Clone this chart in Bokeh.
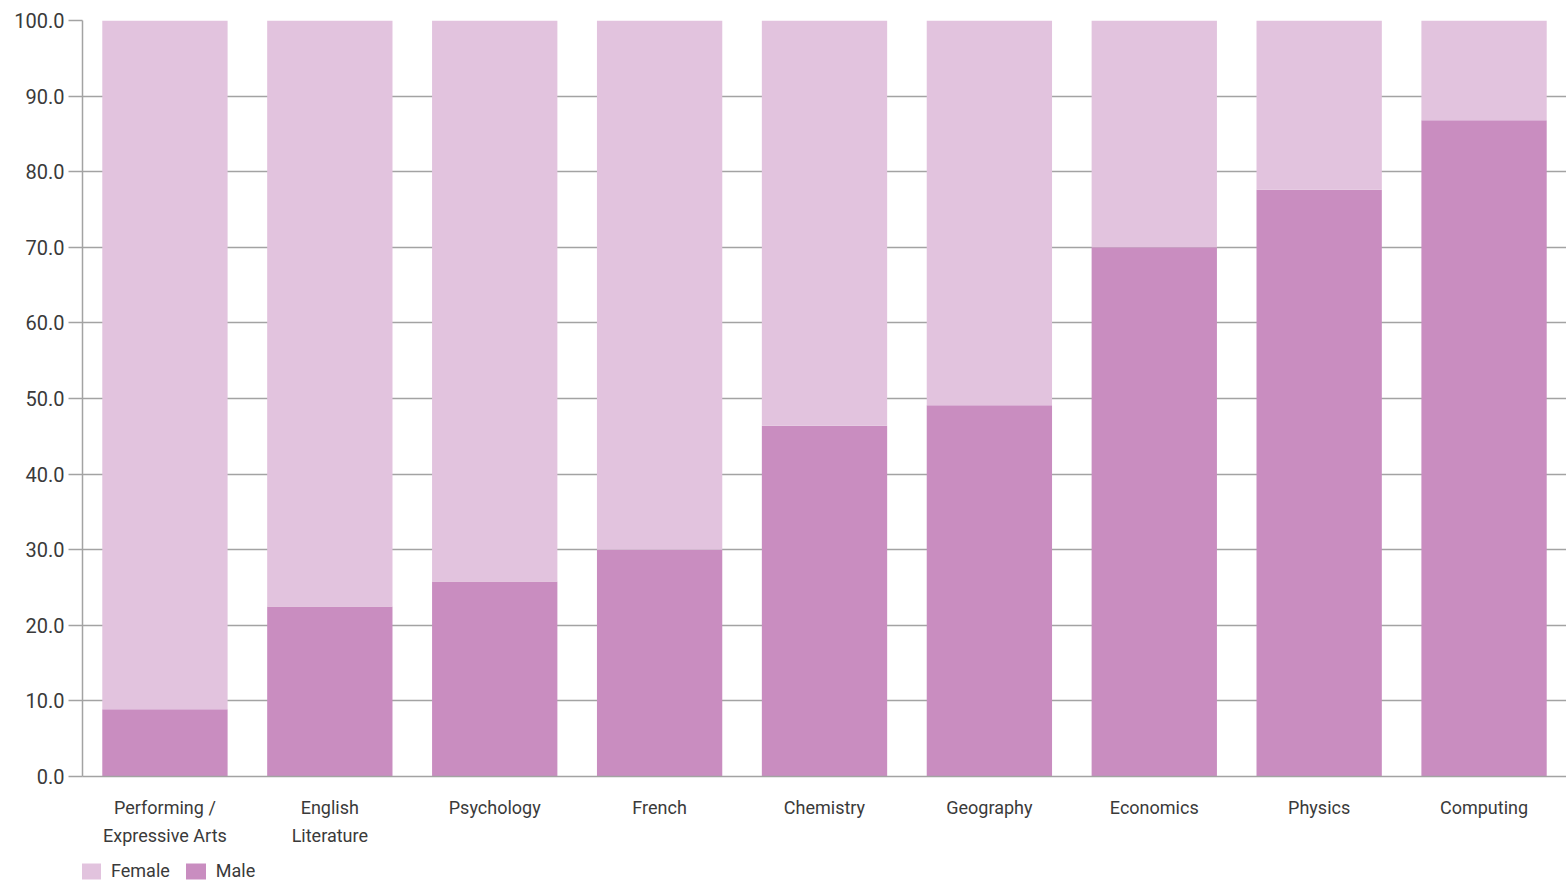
from bokeh.plotting import figure
from bokeh.layouts import column
from bokeh.models import ColumnDataSource, FactorRange, Range1d, Legend, LegendItem, NumeralTickFormatter, FixedTicker
from bokeh.embed import file_html
from bokeh.resources import INLINE

subjects = ["Performing /\nExpressive Arts", "English\nLiterature", "Psychology", "French",
            "Chemistry", "Geography", "Economics", "Physics", "Computing"]
male = [8.9, 22.5, 25.8, 30.0, 46.4, 49.1, 70.0, 77.6, 86.8]
female = [round(100 - m, 1) for m in male]
y_ticks = [0, 10, 20, 30, 40, 50, 60, 70, 80, 90, 100]
series = ["Female", "Male"]
colors = {"Female": "#E2C3DE", "Male": "#C98DC0"}

FONT = "Roboto"
TEXT = "#3a3a3a"
GRID = "#a3a3a3"

src = ColumnDataSource(dict(x=subjects, Male=male, Female=female))
xr = FactorRange(*subjects, range_padding=0)

p = figure(width=1566, height=850, x_range=xr,
           y_range=Range1d(0, 100), output_backend="svg", toolbar_location=None,
           min_border_left=82, min_border_right=0, min_border_top=20, min_border_bottom=74)
p.outline_line_color = None

rs = p.vbar_stack(["Male", "Female"], x="x", width=0.76, source=src,
                  color=[colors["Male"], colors["Female"]], line_color=None)

p.xgrid.grid_line_color = None
p.ygrid.grid_line_color = GRID
p.ygrid.grid_line_width = 1.5
p.ygrid.ticker = FixedTicker(ticks=y_ticks)

p.yaxis.ticker = FixedTicker(ticks=y_ticks)
p.yaxis.formatter = NumeralTickFormatter(format="0.0")
p.yaxis.axis_line_color = GRID
p.yaxis.axis_line_width = 1.5
p.yaxis.major_tick_line_color = GRID
p.yaxis.major_tick_line_width = 1.5
p.yaxis.major_tick_out = 14
p.yaxis.major_tick_in = 0
p.yaxis.minor_tick_line_color = None
p.yaxis.major_label_standoff = 4
p.yaxis.major_label_text_font_size = "20px"

p.xaxis.axis_line_color = GRID
p.xaxis.axis_line_width = 1.5
p.xaxis.major_tick_line_color = None
p.xaxis.minor_tick_line_color = None
p.xaxis.major_label_standoff = 14
p.xaxis.major_label_text_font_size = "18px"
p.xaxis.major_label_text_line_height = 1.35

for ax in (p.xaxis, p.yaxis):
    ax.major_label_text_font = FONT
    ax.major_label_text_color = TEXT

# legend strip (its bars fall outside the strip's y range, so only the legend shows)
lg = figure(width=1566, height=33, x_range=xr, y_range=Range1d(1000, 1001),
            output_backend="svg", toolbar_location=None, x_axis_type=None, y_axis_type=None,
            min_border=0)
lg.outline_line_color = None
lg.xgrid.grid_line_color = None
lg.ygrid.grid_line_color = None
items = []
for s in series:
    r = lg.vbar(x="x", top=s, width=0.5, source=src, color=colors[s], line_color=None)
    items.append(LegendItem(label=s, renderers=[r]))
legend = Legend(items=items, orientation="horizontal", location=(-4, 2),
                padding=0, margin=0, spacing=13, border_line_color=None,
                background_fill_alpha=0, glyph_width=25, glyph_height=20,
                label_text_font=FONT, label_text_font_size="18px",
                label_text_color=TEXT, label_standoff=8)
lg.add_layout(legend, "center")

layout = column(p, lg, spacing=0)
open("out.html", "w").write(file_html(layout, INLINE))
